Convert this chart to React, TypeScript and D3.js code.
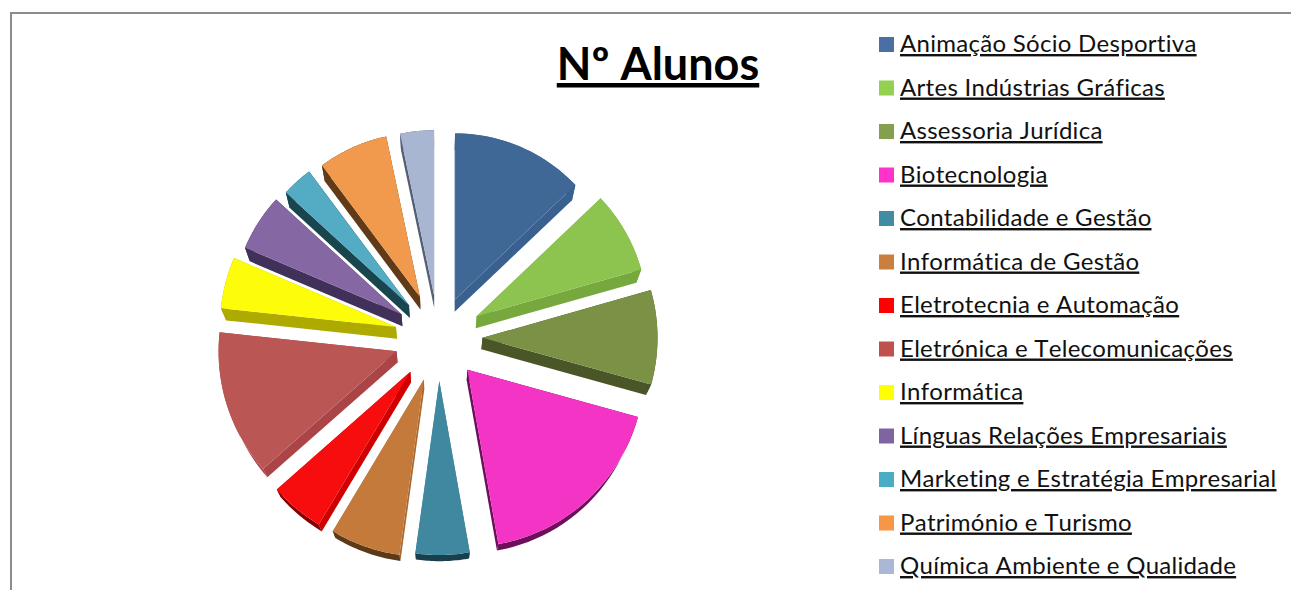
import React from "react";
import * as d3 from "d3";

const categories = ["Animação Sócio Desportiva","Artes Indústrias Gráficas","Assessoria Jurídica","Biotecnologia","Contabilidade e Gestão","Informática de Gestão","Eletrotecnia e Automação","Eletrónica e Telecomunicações","Informática","Línguas Relações Empresariais","Marketing e Estratégia Empresarial","Património e Turismo","Química Ambiente e Qualidade"];
const shares = [12.9,7.7,8.7,17.9,5,6.4,4.9,13.2,4.7,5.4,3,6.9,3.3];
const topColors = ["#3f6897","#8cc44f","#7b9146","#f434c4","#40889f","#c47a3b","#f70d0d","#ba5654","#fdfd0a","#8467a3","#53abc4","#f19a4d","#a8b6d2"];
const legendColors = ["#4a6fa5","#93d150","#84a04e","#ff33cc","#3f8ca3","#c9803e","#ff0000","#c0504d","#ffff00","#8064a2","#4bacc6","#f79646","#aab8d6"];
const sideColors = ["#3a6090","#76a83e","#4a5628","#6e0f5c","#40889f","#a8682e","#d00000","#ab4447","#aeaa00","#40305a","#19454f","#613a17","#555f75"];
const rimColors = ["#3a6090","#76a83e","#4a5628","#6e0f5c","#183f4c","#5c3a18","#8a0000","#ab4447","#aeaa00","#40305a","#19454f","#613a17","#555f75"];
const explode = [42,44,44,43,43,44,44,44,44,44,44,45,43];
const radii = [166,171,175,177,174,177,178,178,176,170,167,164,165];

const W = 1291, H = 590;
const cx = 438.5, cy = 338;
const shrink = 0.9755, drop = 11.5;
const legendX = 879, legendTop = 44, legendStep = 43.5;

const pieGen = d3.pie<number>().sort(null).value(d => d);
const line = d3.line();

function Slice({ d, i }: { d: d3.PieArcDatum<number>; i: number }) {
  const mid = (d.startAngle + d.endAngle) / 2;
  const ax = cx + explode[i] * Math.sin(mid);
  const ay = cy - explode[i] * Math.cos(mid);
  const r = radii[i];
  const angles = d3.range(0, 25).map(k => d.startAngle + (d.endAngle - d.startAngle) * k / 24);
  const top = (a: number): [number, number] => [ax + r * Math.sin(a), ay - r * Math.cos(a)];
  const low = (p: [number, number]): [number, number] => [cx + (p[0] - cx) * shrink, cy + (p[1] - cy) * shrink + drop];
  const apex: [number, number] = [ax, ay];
  const outline = angles.map(top);
  const s = outline[0], e = outline[outline.length - 1];
  const wallA = [apex, s, low(s), low(apex)] as [number, number][];
  const wallB = [apex, e, low(e), low(apex)] as [number, number][];
  const rim = [...outline, ...outline.map(low).reverse()];
  const face = [apex, ...outline];
  return (
    <g>
      <path d={line(wallA)! + "Z"} fill={sideColors[i]} />
      <path d={line(wallB)! + "Z"} fill={sideColors[i]} />
      <path d={line(rim)! + "Z"} fill={rimColors[i]} />
      <path d={line(face)! + "Z"} fill={topColors[i]} />
    </g>
  );
}

export default function App() {
  const arcs = pieGen(shares);
  return (
    <svg width={W} height={H} style={{ position: "absolute", left: 0, top: 0, background: "#fff" }}>
      <path d={`M11,${H}V13H${W}`} fill="none" stroke="#8c8c8c" strokeWidth={2} />
      <text x={658} y={80} textAnchor="middle" fontFamily="Lato" fontWeight={700} fontSize={45} textDecoration="underline" fill="#000" style={{ fontKerning: "none", fontVariantLigatures: "none" }}>Nº Alunos</text>
      {arcs.map((d, i) => <Slice key={i} d={d} i={i} />)}
      {categories.map((c, i) => {
        const y = legendTop + i * legendStep;
        return (
          <g key={c}>
            <rect x={legendX} y={y - 7} width={15} height={15} fill={legendColors[i]} />
            <text x={900} y={y + 8} fontFamily="Lato" fontSize={24} letterSpacing={0.28} textDecoration="underline" fill="#111" style={{ fontKerning: "none", fontVariantLigatures: "none" }}>{c}</text>
          </g>
        );
      })}
    </svg>
  );
}
